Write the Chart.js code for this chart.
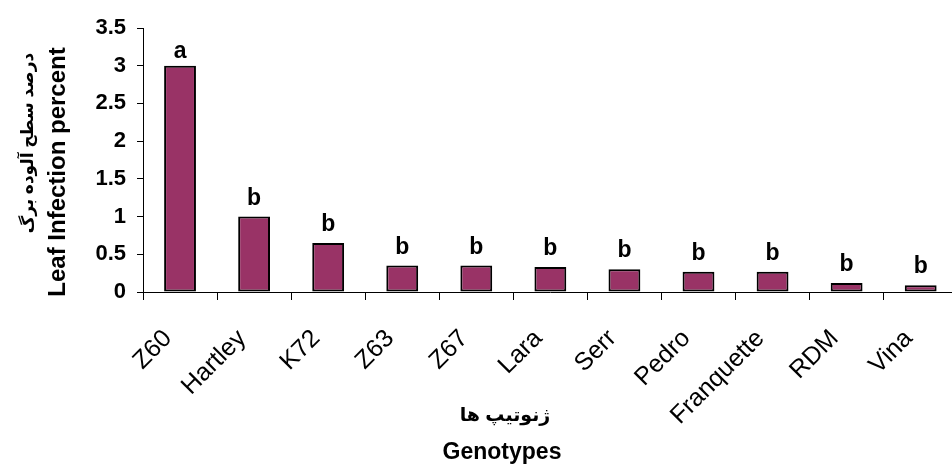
<!DOCTYPE html>
<html lang="en">
<head>
    <meta charset="UTF-8">
    <title>Leaf Infection percent</title>
    <style>
        html, body { margin: 0; padding: 0; background: #fff; overflow: hidden; }
        .wrap { width: 966px; height: 465px; }
    </style>
    <script src="https://cdn.jsdelivr.net/npm/chart.js"></script>
</head>
<body>
    <div class="wrap"><canvas id="chart" width="966" height="465"></canvas></div>

    <script>
        // data
        const genotypes = ['Z60', 'Hartley', 'K72', 'Z63', 'Z67', 'Lara', 'Serr', 'Pedro', 'Franquette', 'RDM', 'Vina'];
        const infection = [3.0, 1.0, 0.65, 0.35, 0.35, 0.33, 0.30, 0.27, 0.27, 0.12, 0.09];
        const groups = ['a', 'b', 'b', 'b', 'b', 'b', 'b', 'b', 'b', 'b', 'b'];
        const yTicks = [0, 0.5, 1, 1.5, 2, 2.5, 3, 3.5];

        const FONT = '"Liberation Sans", Arial, "DejaVu Sans", sans-serif';

        // letters above bars + the two-language axis titles
        const annotate = {
            id: 'annotate',
            afterDatasetsDraw(chart) {
                const ctx = chart.ctx;
                const meta = chart.getDatasetMeta(0);
                ctx.save();
                ctx.fillStyle = '#000';
                ctx.textAlign = 'center';
                ctx.textBaseline = 'alphabetic';
                ctx.font = 'bold 23px ' + FONT;
                meta.data.forEach((bar, i) => {
                    ctx.fillText(groups[i], bar.x, bar.y - (groups[i] === 'a' ? 8 : 12));
                });

                // y axis titles
                ctx.save();
                ctx.translate(58, 172);
                ctx.rotate(-Math.PI / 2);
                ctx.textBaseline = 'middle';
                ctx.font = 'bold 24px ' + FONT;
                ctx.fillText('Leaf Infection percent', 0, 0);
                ctx.restore();

                ctx.save();
                ctx.translate(28, 143);
                ctx.rotate(-Math.PI / 2);
                ctx.textBaseline = 'middle';
                ctx.font = 'bold 17px ' + FONT;
                ctx.fillText('درصد سطح آلوده برگ', 0, 0);
                ctx.restore();

                // x axis titles
                ctx.textBaseline = 'middle';
                ctx.font = 'bold 19px ' + FONT;
                ctx.fillText('ژنوتیپ ها', 505, 416);
                ctx.font = 'bold 23px ' + FONT;
                ctx.fillText('Genotypes', 502, 453);
                ctx.restore();
            }
        };

        new Chart(document.getElementById('chart'), {
            type: 'bar',
            data: {
                labels: genotypes,
                datasets: [{
                    data: infection,
                    backgroundColor: '#993366',
                    borderColor: '#000',
                    borderWidth: 2,
                    borderSkipped: false,
                    categoryPercentage: 1,
                    barPercentage: 0.43
                }]
            },
            options: {
                responsive: false,
                animation: false,
                layout: { padding: { top: 28, right: 2, left: 0, bottom: 0 } },
                plugins: {
                    legend: { display: false },
                    tooltip: { enabled: false }
                },
                scales: {
                    x: {
                        afterFit(scale) { scale.height = 465 - 292; },
                        border: { color: '#000', width: 1 },
                        grid: { drawOnChartArea: false, drawTicks: true, tickLength: 8, color: '#000', offset: true },
                        ticks: {
                            color: '#000',
                            font: { family: FONT, size: 25 },
                            maxRotation: 45,
                            minRotation: 45,
                            autoSkip: false,
                            labelOffset: -12,
                            padding: 24
                        }
                    },
                    y: {
                        min: 0,
                        max: 3.5,
                        afterFit(scale) { scale.width = 143; },
                        afterBuildTicks(scale) { scale.ticks = yTicks.map(v => ({ value: v })); },
                        border: { color: '#000', width: 1 },
                        grid: { drawOnChartArea: false, drawTicks: true, tickLength: 6, color: '#000' },
                        ticks: {
                            color: '#000',
                            font: { family: FONT, size: 22, weight: 'bold' },
                            padding: 11,
                            callback: v => String(v)
                        }
                    }
                }
            },
            plugins: [annotate]
        });
    </script>
</body>
</html>
